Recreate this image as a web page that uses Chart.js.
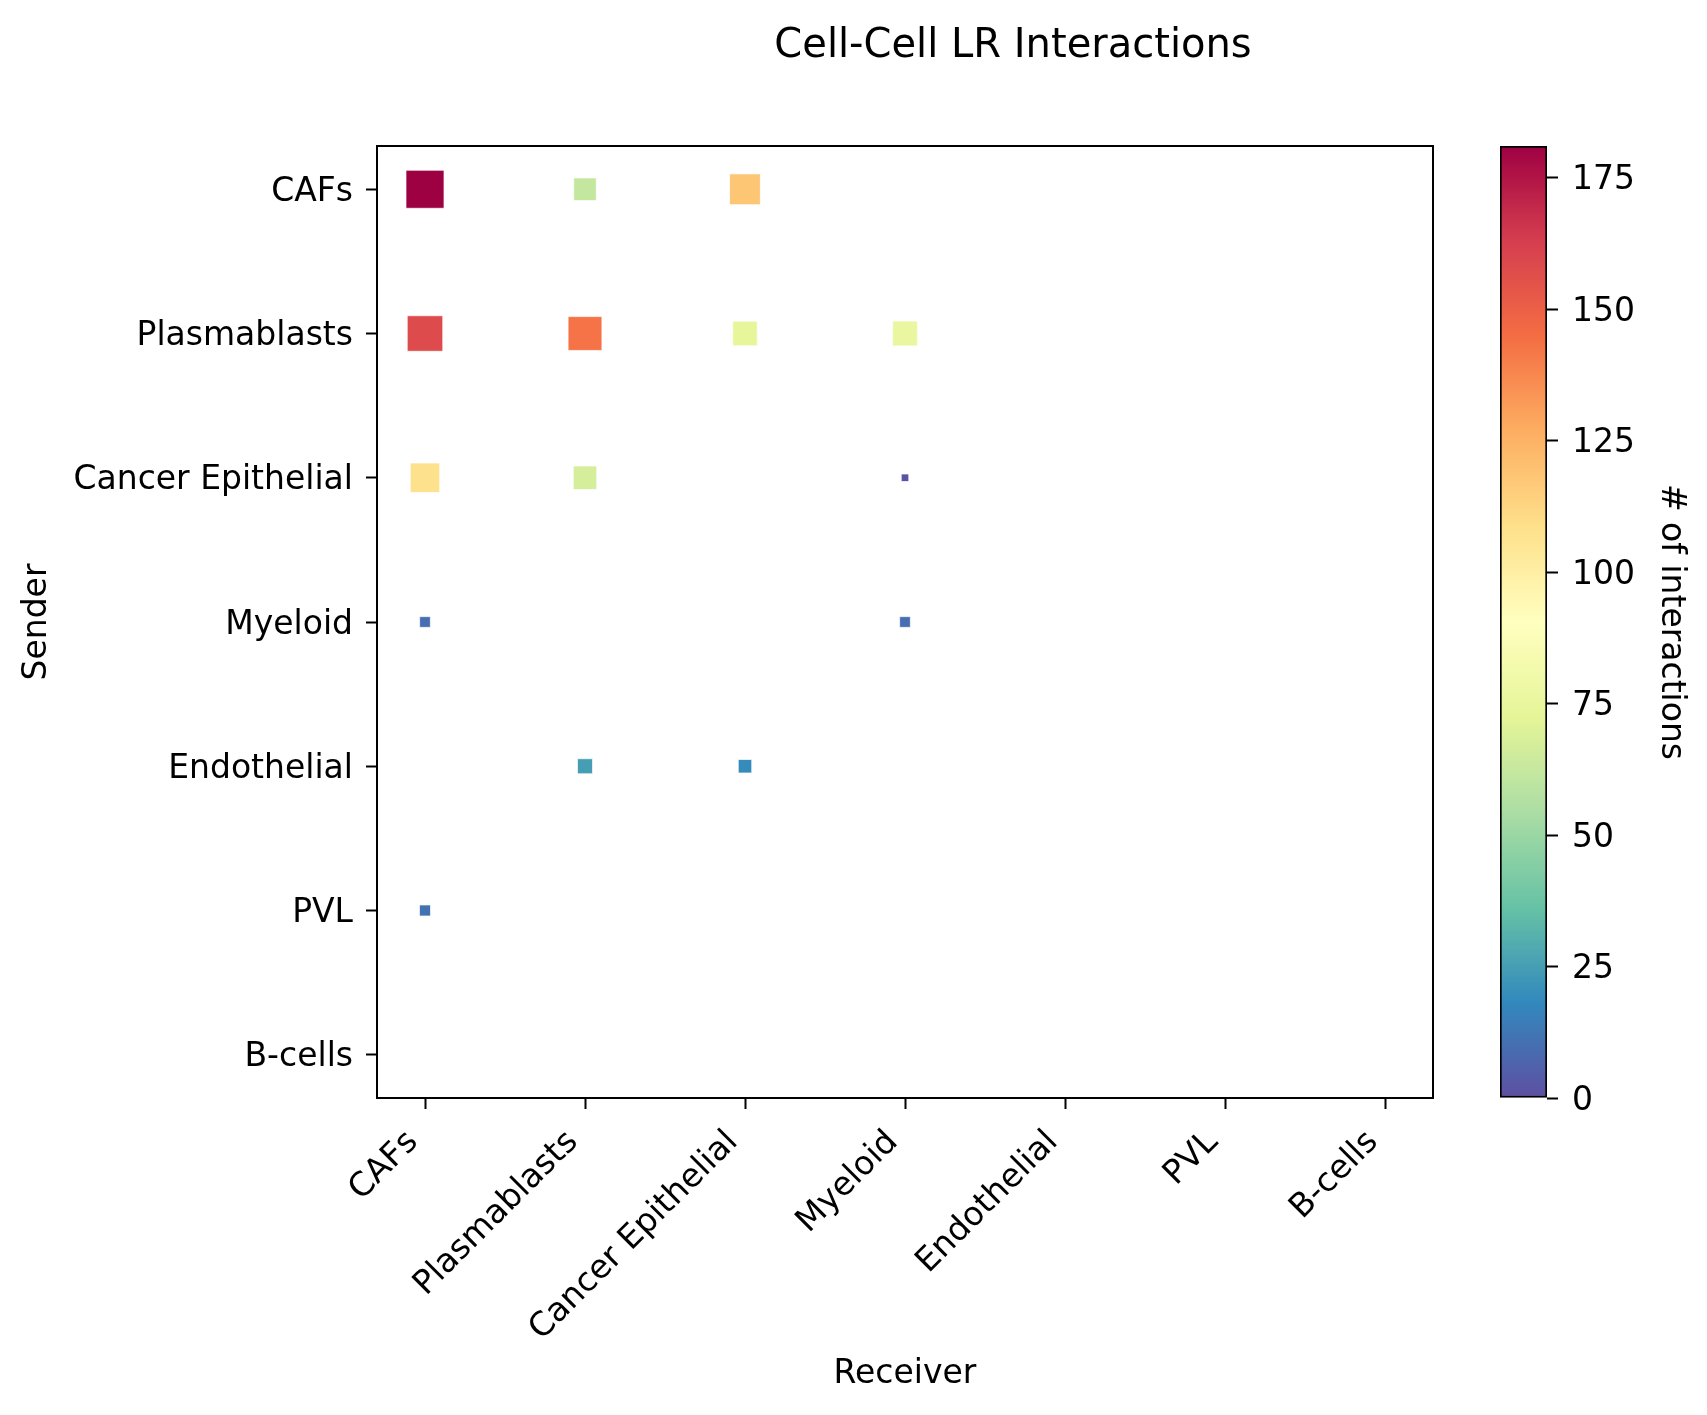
<!DOCTYPE html>
<html>
<head>
<meta charset="utf-8">
<script src="https://cdn.jsdelivr.net/npm/chart.js@4.4.1/dist/chart.umd.min.js"></script>
<style>
  html, body { margin: 0; padding: 0; background: #fff; overflow: hidden; }
  #wrap { position: relative; width: 1707px; height: 1415px; }
  #main { position: absolute; left: 0; top: 0; }
  #cbar { position: absolute; left: 1400px; top: 0; }
  #title {
    position: absolute; left: 1013px; top: 23px; transform: translateX(-50%);
    font: 40px "DejaVu Sans"; line-height: 40px; white-space: nowrap; color: #000;
  }
</style>
</head>
<body>
<div id="wrap">
  <canvas id="main" width="1707" height="1415"></canvas>
  <canvas id="cbar" width="307" height="1415"></canvas>
  <div id="title">Cell-Cell LR Interactions</div>
</div>
<script>
// cell types, same order on both axes
var cellTypes = ['CAFs', 'Plasmablasts', 'Cancer Epithelial', 'Myeloid', 'Endothelial', 'PVL', 'B-cells'];

// sender -> receiver pairs and number of LR interactions
var pairSender   = ['CAFs', 'CAFs', 'CAFs',
                    'Plasmablasts', 'Plasmablasts', 'Plasmablasts', 'Plasmablasts',
                    'Cancer Epithelial', 'Cancer Epithelial', 'Cancer Epithelial',
                    'Myeloid', 'Myeloid',
                    'Endothelial', 'Endothelial',
                    'PVL'];
var pairReceiver = ['CAFs', 'Plasmablasts', 'Cancer Epithelial',
                    'CAFs', 'Plasmablasts', 'Cancer Epithelial', 'Myeloid',
                    'CAFs', 'Plasmablasts', 'Myeloid',
                    'CAFs', 'Myeloid',
                    'Plasmablasts', 'Cancer Epithelial',
                    'CAFs'];
var pairCount    = [181, 62, 118,
                    158, 143, 74, 76,
                    108, 67, 2,
                    10, 10,
                    25, 19,
                    11];

var colorMax = 181;
var colorTicks = [0, 25, 50, 75, 100, 125, 150, 175];

// Spectral stops (reversed when used: low = purple, high = dark red)
var spectral = [[158,1,66],[213,62,79],[244,109,67],[253,174,97],[254,224,139],[255,255,191],
                [230,245,152],[171,221,164],[102,194,165],[50,136,189],[94,79,162]];

function spectralR(v) {
  var s = 1 - Math.max(0, Math.min(1, v / colorMax));
  var p = s * 10;
  var i = Math.min(9, Math.floor(p));
  var f = p - i;
  var a = spectral[i], b = spectral[i + 1];
  var c = [0, 1, 2].map(function(k) { return Math.round(a[k] + (b[k] - a[k]) * f); });
  return 'rgb(' + c.join(',') + ')';
}

// marker side in px grows with sqrt of the count
function markerRadius(v) {
  var side = 2.845 * Math.sqrt(v + 6.93);
  return (side - 1) / Math.SQRT2;
}

Chart.defaults.font.family = 'DejaVu Sans';
Chart.defaults.font.size = 33;
Chart.defaults.color = '#000';
Chart.defaults.animation = false;

var points = pairCount.map(function(v, i) {
  return { x: cellTypes.indexOf(pairReceiver[i]), y: cellTypes.indexOf(pairSender[i]) };
});

var catTicks = function(scale) {
  scale.ticks = cellTypes.map(function(_, i) { return { value: i }; });
};

new Chart(document.getElementById('main'), {
  type: 'scatter',
  data: {
    datasets: [{
      data: points,
      pointStyle: 'rect',
      pointRadius: pairCount.map(markerRadius),
      backgroundColor: pairCount.map(spectralR),
      borderColor: 'rgba(255,255,255,0.7)',
      borderWidth: 1
    }]
  },
  options: {
    responsive: false,
    events: [],
    layout: { padding: { left: 18, right: 274, top: 146, bottom: 21 } },
    plugins: { legend: { display: false }, tooltip: { enabled: false } },
    scales: {
      x: {
        type: 'linear', position: 'bottom', min: -0.3, max: 6.3,
        afterBuildTicks: catTicks,
        afterFit: function(s) { s.height = 296; },
        grid: { display: true, drawOnChartArea: false, tickLength: 11, tickColor: '#000', tickWidth: 2 },
        border: { display: true, color: '#000', width: 2 },
        ticks: {
          autoSkip: false, maxRotation: 45, minRotation: 45, padding: 14, labelOffset: -12,
          callback: function(v) { return cellTypes[v]; }
        },
        title: { display: true, text: 'Receiver', padding: 0 }
      },
      y: {
        type: 'linear', position: 'left', min: -0.3, max: 6.3, reverse: true,
        afterBuildTicks: catTicks,
        afterFit: function(s) { s.width = 359; },
        grid: { display: true, drawOnChartArea: false, tickLength: 11, tickColor: '#000', tickWidth: 2 },
        border: { display: true, color: '#000', width: 2 },
        ticks: { autoSkip: false, padding: 13, labelOffset: 3, callback: function(v) { return cellTypes[v]; } },
        title: { display: true, text: 'Sender', padding: 0 }
      },
      xTop: {
        type: 'linear', axis: 'x', position: 'top',
        afterFit: function(s) { s.height = 0; },
        grid: { display: false }, ticks: { display: false },
        border: { display: true, color: '#000', width: 2 }
      },
      yRight: {
        type: 'linear', axis: 'y', position: 'right',
        afterFit: function(s) { s.width = 0; },
        grid: { display: false }, ticks: { display: false },
        border: { display: true, color: '#000', width: 2 }
      }
    }
  }
});

// colour bar
new Chart(document.getElementById('cbar'), {
  type: 'bar',
  data: {
    labels: ['count'],
    datasets: [{
      data: [[0, colorMax]],
      barPercentage: 1,
      categoryPercentage: 1,
      borderColor: '#000',
      borderWidth: 2,
      borderSkipped: false,
      backgroundColor: function(ctx) {
        var area = ctx.chart.chartArea;
        if (!area) return '#fff';
        var g = ctx.chart.ctx.createLinearGradient(0, area.bottom, 0, area.top);
        for (var k = 0; k <= 50; k++) g.addColorStop(k / 50, spectralR(colorMax * k / 50));
        return g;
      }
    }]
  },
  options: {
    responsive: false,
    events: [],
    layout: { padding: { left: 100, right: 17, top: 146, bottom: 317 } },
    plugins: { legend: { display: false }, tooltip: { enabled: false } },
    scales: {
      x: { display: false },
      y: {
        position: 'right', min: 0, max: colorMax,
        afterBuildTicks: function(s) { s.ticks = colorTicks.map(function(v) { return { value: v }; }); },
        afterFit: function(s) { s.width = 143; },
        grid: { display: true, drawOnChartArea: false, tickLength: 11, tickColor: '#000', tickWidth: 2 },
        border: { display: false },
        ticks: { padding: 14, labelOffset: 3 },
        title: { display: true, text: '# of interactions', padding: 0 }
      }
    }
  }
});
</script>
</body>
</html>
